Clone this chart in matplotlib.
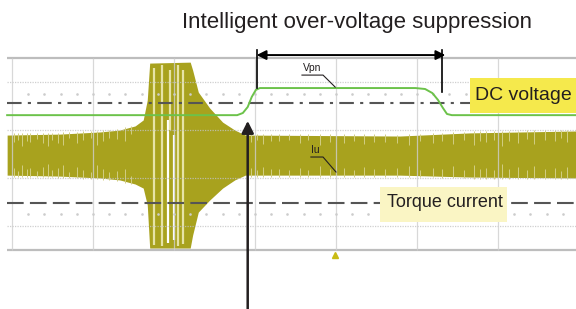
import numpy as np
import matplotlib
matplotlib.use("Agg")
import matplotlib.pyplot as plt
from matplotlib.patches import Rectangle

plt.rcParams['font.family'] = ['Liberation Sans', 'DejaVu Sans']

# screen units: x in time divisions, y in vertical divisions (1 div = 24 px)
# Vpn (DC bus voltage), green trace
vpn_t = [-0.06, 2.78, 2.85, 2.91, 2.96, 3.01, 3.06, 4.98, 5.10, 5.19, 5.26, 5.32, 5.37, 5.43, 6.96]
vpn_v = [1.62, 1.62, 1.71, 1.96, 2.38, 2.67, 2.75, 2.75, 2.71, 2.54, 2.25, 1.92, 1.67, 1.62, 1.62]

# Iu envelope, olive band
iu_t = [-0.06, 0.59, 1.09, 1.33, 1.52, 1.62, 1.67, 1.70, 2.20, 2.23, 2.30, 2.44, 2.60, 2.75, 2.88, 4.79, 5.65, 6.96]
iu_top = [0.79, 0.83, 0.92, 1.00, 1.17, 1.42, 2.25, 3.79, 3.83, 3.50, 2.58, 1.92, 1.33, 1.00, 0.79, 0.75, 0.88, 0.96]
iu_bot = [-0.88, -0.92, -1.00, -1.08, -1.25, -1.42, -2.12, -3.92, -3.92, -3.38, -2.42, -1.92, -1.42, -1.08, -0.88, -0.88, -0.96, -1.00]

# light stripes inside the oscillation burst
burst_t = [1.75, 1.85, 1.93, 1.95, 2.00, 2.05, 2.11]
burst_hi = [3.60, 3.70, 1.40, 3.50, 0.80, 3.70, 3.50]
burst_lo = [-3.80, -3.85, -3.70, 1.00, -3.60, -3.85, -3.75]
burst_col = ['#e6e3a6', '#e6e3a6', 'white', '#e6e3a6', 'white', '#e6e3a6', '#e6e3a6']

# noise spikes on the band edges
spike_t = [0.03, 0.08, 0.12, 0.18, 0.22, 0.31, 0.38, 0.44, 0.50, 0.57, 0.63, 0.71, 0.80,
           0.88, 0.97, 1.05, 1.12, 1.20, 1.30, 1.40, 1.47,
           2.95, 3.03, 3.10, 3.20, 3.30, 3.42, 3.55, 3.66, 3.80, 3.93, 4.10, 4.22,
           4.35, 4.47, 4.60, 4.75, 4.90, 5.04, 5.20, 5.31, 5.45, 5.58,
           5.70, 5.78, 5.85, 5.95, 6.05, 6.14, 6.25, 6.36, 6.45, 6.58, 6.70, 6.78, 6.85]
spike_len = [0.30, 0.20, 0.45, 0.25, 0.30, 0.20, 0.35, 0.50, 0.25, 0.35, 0.45, 0.20, 0.40,
             0.30, 0.25, 0.55, 0.40, 0.30, 0.35, 0.50, 0.30,
             0.30, 0.20, 0.35, 0.25, 0.25, 0.20, 0.30, 0.20, 0.40, 0.25, 0.30, 0.20,
             0.35, 0.25, 0.25, 0.30, 0.40, 0.25, 0.35, 0.30, 0.45, 0.30,
             0.50, 0.35, 0.40, 0.30, 0.55, 0.35, 0.45, 0.30, 0.50, 0.35, 0.40, 0.30, 0.45]

dc_level = 2.125
torque_level = -2.04

fig = plt.figure(figsize=(5.76, 3.09), dpi=100)
ax = fig.add_axes([0, 0, 1, 1])
ax.set_xlim(-0.148, 6.963)
ax.set_ylim(-6.46, 6.42)
ax.axis('off')

# band
ax.fill_between(iu_t, iu_top, iu_bot, color='#a8a21e', lw=0, zorder=2)
top_at = np.interp(spike_t, iu_t, iu_top)
bot_at = np.interp(spike_t, iu_t, iu_bot)
ax.vlines(spike_t, top_at - np.array(spike_len), top_at + 0.06, color='#d2ce84', lw=0.7, zorder=2.1)
ax.vlines(spike_t, bot_at - 0.06, bot_at + np.array(spike_len), color='#d2ce84', lw=0.7, zorder=2.1)
for t, hi, lo, c in zip(burst_t, burst_hi, burst_lo, burst_col):
    ax.vlines(t, lo, hi, color=c, lw=1.6, zorder=2.2)

# graticule
ax.hlines([4, -4], -0.06, 6.96, color='#bdbdbd', lw=1.6, zorder=3)
ax.hlines([3, 1, -1, -3], -0.06, 6.96, color='#c4c4c4', lw=0.9, ls=(0, (1, 1)), alpha=0.8, zorder=3)
ax.vlines(range(7), -4, 4, color='#cfcfcf', lw=0.9, alpha=0.8, zorder=3)
dots = np.arange(0.2, 6.9, 0.2)
ax.plot(dots, np.full(len(dots), 2.5), ls='none', marker='s', ms=0.8, color='#cccccc', zorder=3)
ax.plot(dots, np.full(len(dots), -2.5), ls='none', marker='s', ms=0.8, color='#cccccc', zorder=3)

# reference levels
ax.plot([-0.06, 5.65], [dc_level, dc_level], color='#555555', lw=1.5, ls=(0, (7, 3, 1.5, 3)), zorder=4)
ax.plot([-0.06, 6.96], [torque_level, torque_level], color='#555555', lw=1.5, ls=(0, (8, 3)), zorder=4)

# Vpn trace
ax.plot(vpn_t, vpn_v, color='#6cc24a', lw=1.4, zorder=5)

# labels with boxes
ax.add_patch(Rectangle((5.65, 1.71), 1.4, 1.46, fc='#f5e94c', ec='none', zorder=6))
ax.text(5.72, 2.42, 'DC voltage', fontsize=14, color='#231f20', va='center', ha='left', zorder=7)
ax.add_patch(Rectangle((4.54, -2.83), 1.57, 1.455, fc='#faf5c4', ec='none', zorder=6))
ax.text(4.63, -2.02, 'Torque current', fontsize=13, color='#231f20', va='center', ha='left', zorder=7)

ax.text(4.26, 5.5, 'Intelligent over-voltage suppression', fontsize=16, color='#231f20',
        ha='center', va='center', zorder=7)

# suppression interval arrow
ax.annotate('', xy=(3.02, 4.125), xytext=(5.35, 4.125),
            arrowprops=dict(arrowstyle='<|-|>', color='black', lw=1.4, mutation_scale=14, shrinkA=0, shrinkB=0), zorder=8)
ax.plot([3.02, 3.02], [4.33, 2.75], color='black', lw=1.2, zorder=8)
ax.plot([5.31, 5.31], [4.33, 2.58], color='black', lw=1.2, zorder=8)

# trigger arrow
ax.annotate('', xy=(2.91, 1.38), xytext=(2.91, -6.46),
            arrowprops=dict(arrowstyle='-|>', color='#231f20', lw=1.8, mutation_scale=18, shrinkA=0, shrinkB=0), zorder=8)

# trace names
ax.text(3.71, 3.58, 'Vpn', fontsize=7.5, color='#231f20', ha='center', va='center', zorder=8)
ax.plot([3.58, 3.84, 3.99], [3.29, 3.29, 2.79], color='#231f20', lw=0.8, zorder=8)
ax.text(3.75, 0.17, 'Iu', fontsize=7.5, color='#231f20', ha='center', va='center', zorder=8)
ax.plot([3.69, 3.84, 4.0], [-0.125, -0.125, -0.75], color='#231f20', lw=0.8, zorder=8)

ax.plot([3.99], [-4.2], ls='none', marker='^', ms=5, color='#c8bb14', zorder=8)

fig.savefig('out.png', dpi=100)
